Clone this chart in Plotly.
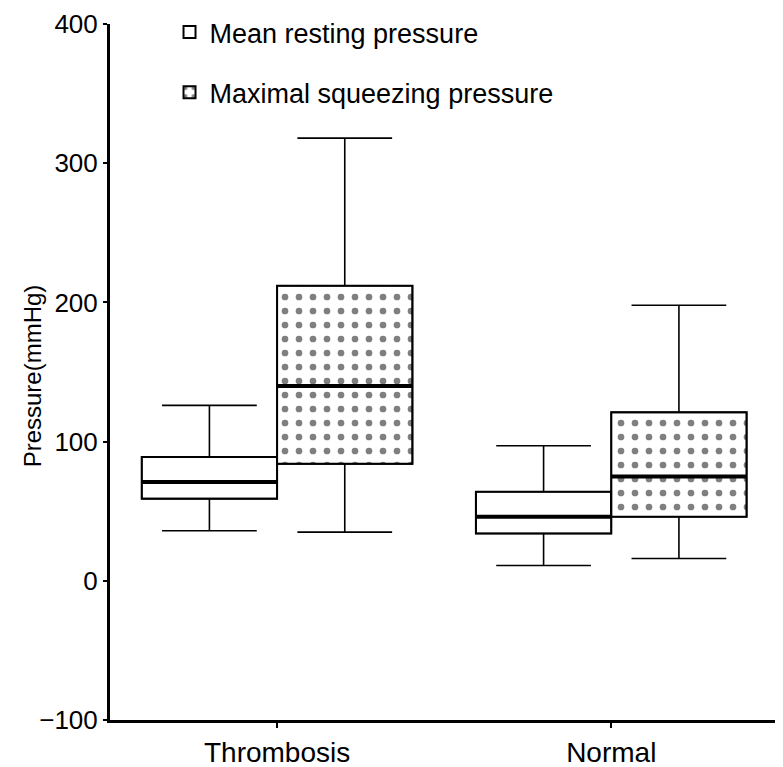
import plotly.graph_objects as go

groups = ["Thrombosis", "Normal"]

rest_low = [36, 11]
rest_q1 = [59, 34]
rest_med = [71, 46]
rest_q3 = [89, 64]
rest_high = [126, 97]

sq_low = [35, 16]
sq_q1 = [84, 46]
sq_med = [140, 75]
sq_q3 = [212, 121]
sq_high = [318, 198]

y_ticks = [-100, 0, 100, 200, 300, 400]
y_ticklabels = ["\u2212100", "0", "100", "200", "300", "400"]

FONT = "Liberation Sans, Arial, sans-serif"

fig = go.Figure()

# filled bodies (also provide the legend symbols)
fig.add_trace(go.Bar(
    x=groups, base=rest_q1, y=[b - a for a, b in zip(rest_q1, rest_q3)],
    name="Mean resting pressure", offsetgroup="a", legendgroup="g1",
    marker=dict(color="white", line=dict(color="black", width=2)),
    hoverinfo="skip",
))
fig.add_trace(go.Bar(
    x=groups, base=sq_q1, y=[b - a for a, b in zip(sq_q1, sq_q3)],
    name="Maximal squeezing pressure", offsetgroup="b", legendgroup="g2",
    marker=dict(color="white", line=dict(color="black", width=2),
                pattern=dict(shape=".", fgcolor="black", bgcolor="white",
                             size=14, solidity=0.18)),
    hoverinfo="skip",
))

# box outlines and whiskers
for name, og, lo, q1, md, q3, hi in [
    ("rest", "a", rest_low, rest_q1, rest_med, rest_q3, rest_high),
    ("sq", "b", sq_low, sq_q1, sq_med, sq_q3, sq_high),
]:
    fig.add_trace(go.Box(
        x=groups, q1=q1, median=md, q3=q3, lowerfence=lo, upperfence=hi,
        offsetgroup=og, showlegend=False, fillcolor="rgba(0,0,0,0)",
        line=dict(color="black", width=1.6), whiskerwidth=0.7,
        boxpoints=False, name=name, hoverinfo="skip",
    ))
    # thick median line
    fig.add_trace(go.Box(
        x=groups, q1=md, median=md, q3=md, lowerfence=md, upperfence=md,
        offsetgroup=og, showlegend=False, fillcolor="rgba(0,0,0,0)",
        line=dict(color="black", width=4), whiskerwidth=0,
        boxpoints=False, name=name + " median", hoverinfo="skip",
    ))

fig.update_layout(
    width=783, height=767,
    margin=dict(l=102, r=16, t=16, b=55, autoexpand=False),
    paper_bgcolor="white", plot_bgcolor="white",
    barmode="group", bargap=0.19, bargroupgap=0,
    boxmode="group", boxgap=0.19, boxgroupgap=0,
    font=dict(family=FONT, color="black", size=24),
    legend=dict(x=0.0895, y=1.023, xanchor="left", yanchor="top",
                font=dict(size=27), traceorder="grouped",
                bgcolor="rgba(0,0,0,0)", tracegroupgap=22),
    showlegend=True,
    annotations=[dict(
        text="Pressure(mmHg)", textangle=-90, showarrow=False,
        xref="paper", yref="paper", x=-0.117, y=0.494,
        xanchor="center", yanchor="middle",
        font=dict(size=24, family=FONT, color="black"),
    )],
)
fig.update_xaxes(
    range=[-0.5, 1.49], showgrid=False, zeroline=False,
    showline=True, linecolor="black", linewidth=3,
    ticks="outside", ticklen=5, tickwidth=2, tickcolor="black",
    tickfont=dict(size=28, family=FONT), ticklabeloverflow="allow",
)
fig.update_yaxes(
    range=[-100, 400], tickvals=y_ticks, ticktext=y_ticklabels,
    showgrid=False, zeroline=False,
    showline=True, linecolor="black", linewidth=3,
    ticks="outside", ticklen=4, tickwidth=2, tickcolor="black",
    tickfont=dict(size=26, family=FONT), ticklabeloverflow="allow",
)

fig.write_html("out.html")
